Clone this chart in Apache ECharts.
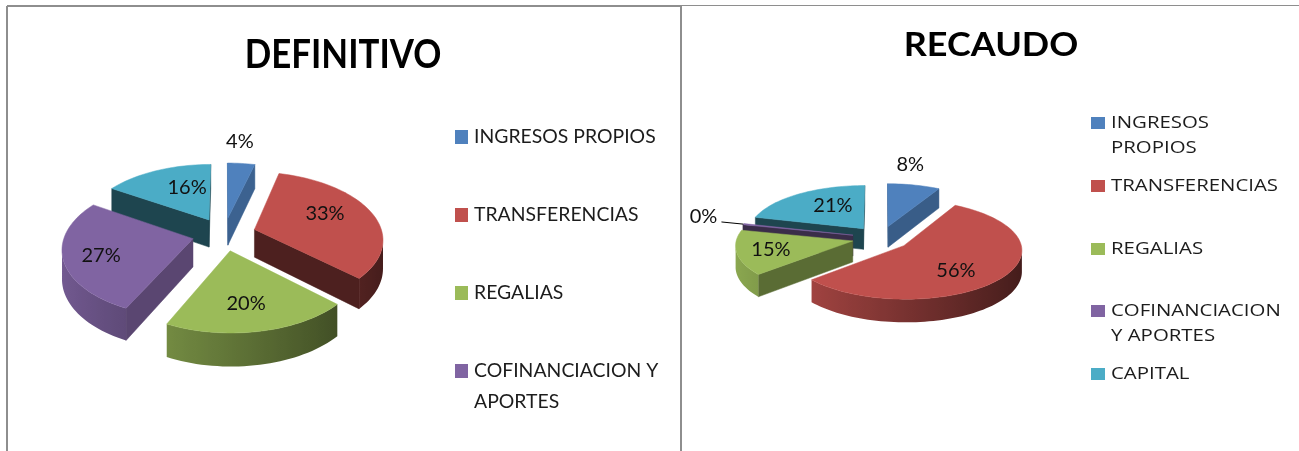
<!DOCTYPE html>
<html><head><meta charset="utf-8">
<style>html,body{margin:0;padding:0;background:#fff}#c{width:1299px;height:451px}</style>
<script src="https://cdn.jsdelivr.net/npm/echarts@6/dist/echarts.min.js"></script>
</head><body><div id="c"></div>
<script>
// ---- data ----
var categories = ['INGRESOS PROPIOS','TRANSFERENCIAS','REGALIAS','COFINANCIACION Y APORTES','CAPITAL'];
var definitivo = [4, 33, 20, 27, 16];
var recaudo = [8, 55.6, 15, 0.4, 21];
var legendLinesLeft = [['INGRESOS PROPIOS'],['TRANSFERENCIAS'],['REGALIAS'],['COFINANCIACION Y','APORTES']];
var legendLinesRight = [['INGRESOS','PROPIOS'],['TRANSFERENCIAS'],['REGALIAS'],['COFINANCIACION','Y APORTES'],['CAPITAL']];
// ---- style ----
var colors = ['#4F81BD','#C0504D','#9BBB59','#8064A2','#4BACC6'];
var FONT = 'Lato, "Open Sans", sans-serif';

function shade(hex, f){
  var n = parseInt(hex.slice(1),16);
  return 'rgb('+[(n>>16)&255,(n>>8)&255,n&255].map(function(c){return Math.round(c*f);}).join(',')+')';
}

function pie3d(name, values, g){
  var total = values.reduce(function(a,b){return a+b;},0), acc = 0;
  var spans = values.map(function(v){var s=acc/total*360; acc+=v; return [s,acc/total*360];});
  function mid(i){return (spans[i][0]+spans[i][1])/2;}
  var order = values.map(function(v,i){return i;}).sort(function(a,b){
    return Math.cos(mid(b)*Math.PI/180)-Math.cos(mid(a)*Math.PI/180);
  });
  function project(X,Y,d){
    var s = 1/(1+g.k*Y);
    return [g.cx+g.R*X*s, g.cy-g.r*Y*s+(d?g.depth*s:0)];
  }
  function renderItem(params, api){
    var i = api.value(1), a0 = spans[i][0], a1 = spans[i][1];
    var bis = mid(i)*Math.PI/180;
    var ox = g.e*Math.sin(bis), oy = g.e*Math.cos(bis);
    var base = [[ox,oy,null]];
    var n = Math.max(2,Math.ceil((a1-a0)/2));
    for(var j=0;j<=n;j++){
      var t=(a0+(a1-a0)*j/n)*Math.PI/180;
      base.push([ox+Math.sin(t),oy+Math.cos(t),t]);
    }
    var top = base.map(function(p){return project(p[0],p[1],false);});
    var bot = base.map(function(p){return project(p[0],p[1],true);});
    var kids = [], wall = shade(colors[i], g.wall[i]);
    function quad(a,b){
      kids.push({type:'polygon',shape:{points:[top[a],top[b],bot[b],bot[a]]},
        style:{fill:wall,stroke:wall,lineWidth:0.5}});
    }
    if(top[1][0] < top[0][0]-0.01) quad(0,1);
    var last = base.length-1;
    if(top[0][0] < top[last][0]-0.01) quad(last,0);
    // visible outer wall, shaded from its facing direction
    var vis=[];
    for(j=1;j<=last;j++){
      if(j<last ? top[j+1][0]<top[j][0] : top[j][0]<top[j-1][0]) vis.push(j);
    }
    if(vis.length>1){
      var pts = vis.map(function(q){return top[q];}).concat(vis.slice().reverse().map(function(q){return bot[q];}));
      var xmax = top[vis[0]][0], xmin = top[vis[vis.length-1]][0];
      var stops = vis.map(function(q){
        return {offset:(top[q][0]-xmin)/(xmax-xmin||1), color:shade(colors[i], 0.625-0.275*Math.sin(base[q][2]))};
      }).reverse();
      kids.push({type:'polygon',shape:{points:pts},
        style:{fill:new echarts.graphic.LinearGradient(0,0,1,0,stops)}});
    }
    kids.push({type:'polygon',shape:{points:top},style:{fill:colors[i],stroke:colors[i],lineWidth:0.5}});
    // percentage label
    var la=(mid(i)+g.labelShift[i])*Math.PI/180, lr=g.labelRadius[i];
    var lp=project(lr*Math.sin(la),lr*Math.cos(la),false);
    if(g.leader===i){
      var outer=project(ox+Math.sin(bis),oy+Math.cos(bis),false);
      kids.push({type:'line',shape:{x1:lp[0]+18,y1:lp[1]+5,x2:outer[0],y2:outer[1]},style:{stroke:'#000',lineWidth:1}});
    }
    kids.push({type:'text',z2:50,style:{x:lp[0],y:lp[1],text:Math.round(api.value(0)/total*100)+'%',
      font:g.labelFont,fill:'#111',align:'center',verticalAlign:'middle'}});
    return {type:'group',children:kids};
  }
  return {type:'custom',name:name,coordinateSystem:'none',renderItem:renderItem,silent:true,
    data:order.map(function(i){return [values[i],i];})};
}

var leftGeom = {cx:224,cy:234,R:128,r:66.3,k:0.133,e:0.25,depth:28,
  wall:[0.76,0.4,0.58,0.7,0.4],
  labelRadius:[1.709,0.88,0.938,0.973,0.827],labelShift:[-2.1,-4.7,1.5,-2.9,6.2],
  labelFont:'20px '+FONT,leader:-1};
var rightGeom = {cx:881,cy:238,R:116,r:48,k:0.08,e:0.25,depth:21,
  wall:[0.72,0.4,0.58,0.45,0.4],
  labelRadius:[1.78,0.89,0.96,1.65,0.84],labelShift:[-5.1,7.6,0,2.3,6.4],
  labelFont:'20px '+FONT,leader:3};

function legendEls(lines, iconX, iconSize, textX, rows, lineGap, font, sx){
  var out=[];
  lines.forEach(function(ls,i){
    out.push({type:'rect',shape:{x:iconX,y:rows[i]-iconSize[1]/2,width:iconSize[0],height:iconSize[1]},style:{fill:colors[i]}});
    ls.forEach(function(t,j){
      out.push({type:'text',x:textX,y:rows[i]+j*lineGap,scaleX:sx,
        style:{x:0,y:0,text:t,font:font,fill:'#1c1c1c',align:'left',verticalAlign:'middle'}});
    });
  });
  return out;
}
function titleEl(text, x, y, size, sx){
  return {type:'text',x:x,y:y,scaleX:sx,
    style:{x:0,y:0,text:text,font:'bold '+size+'px '+FONT,fill:'#000',align:'center',verticalAlign:'middle'}};
}
var frame = [[6,6,2,445],[7,5,674,2],[680,5,2,446],[682,5,617,1]].map(function(b){
  return {type:'rect',shape:{x:b[0],y:b[1],width:b[2],height:b[3]},style:{fill:'#8e8e8e'}};
});

var chart = echarts.init(document.getElementById('c'),null,{renderer:'canvas'});
chart.setOption({
  animation:false,
  backgroundColor:'#fff',
  graphic:{elements:frame
    .concat([titleEl('DEFINITIVO',343,55,41,0.85),titleEl('RECAUDO',991,45,33,1.09)])
    .concat(legendEls(legendLinesLeft,455,[13,14],474,[137,215,293,371],31,'20px '+FONT,0.97))
    .concat(legendEls(legendLinesRight,1091,[14,12],1111,[123,186,249,311,374],25,'17px "Open Sans", sans-serif',1.2))},
  series:[pie3d('DEFINITIVO',definitivo,leftGeom),pie3d('RECAUDO',recaudo,rightGeom)]
});
</script></body></html>
